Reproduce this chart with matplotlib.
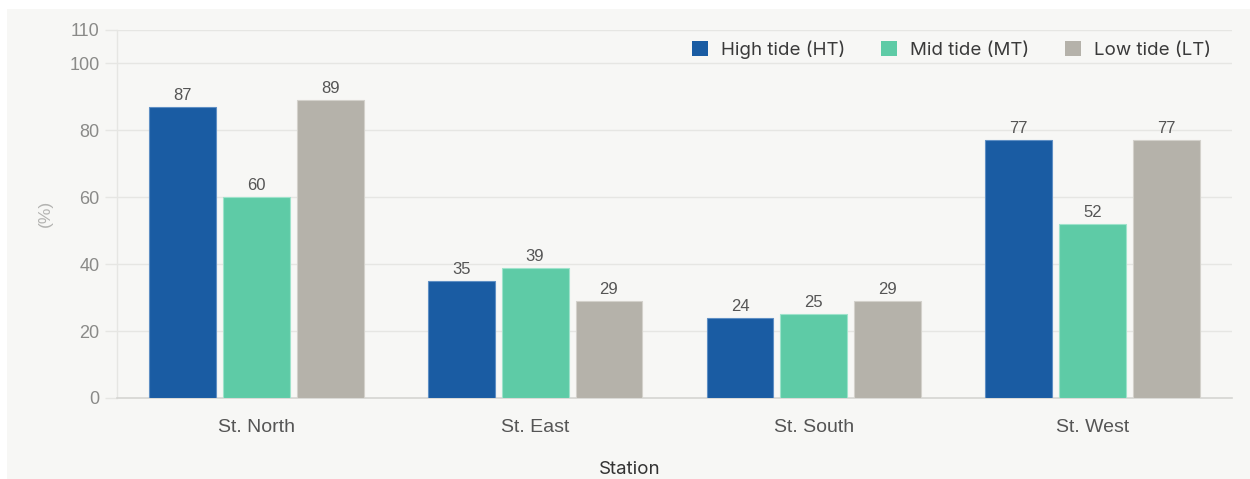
import matplotlib
matplotlib.use("Agg")
import matplotlib.pyplot as plt
import numpy as np
from matplotlib.patches import Rectangle

stations = ["St. North", "St. East", "St. South", "St. West"]
series_names = ["High tide (HT)", "Mid tide (MT)", "Low tide (LT)"]
high_tide = [87, 35, 24, 77]
mid_tide = [60, 39, 25, 52]
low_tide = [89, 29, 29, 77]
y_ticks = [0, 20, 40, 60, 80, 100, 110]

colors = ["#1a5ca3", "#5ecba6", "#b5b2aa"]
edge_colors = ["#5f8fc4", "#9ee3cb", "#d3d1cb"]
panel_color = "#f7f7f5"
grid_color = "#e6e6e3"

fig = plt.figure(figsize=(12.5, 4.79), dpi=100)
fig.patch.set_facecolor("white")
fig.patches.append(Rectangle((7 / 1250, 0), 1 - 7 / 1250, 1 - 9 / 479,
                             transform=fig.transFigure, facecolor=panel_color,
                             edgecolor="none", zorder=-10))

ax = fig.add_axes([117 / 1250, 1 - 398 / 479, (1232 - 117) / 1250, (398 - 30) / 479])
ax.set_facecolor("none")

x = np.arange(len(stations))
bar_w = 0.24
step = 0.265
for i, (vals, name) in enumerate(zip([high_tide, mid_tide, low_tide], series_names)):
    pos = x + (i - 1) * step
    bars = ax.bar(pos, vals, width=bar_w, color=colors[i], edgecolor=edge_colors[i],
                  linewidth=0.8, label=name, zorder=3)
    for b, v in zip(bars, vals):
        ax.text(b.get_x() + b.get_width() / 2, v + 1.2, f"{v}", ha="center", va="bottom",
                fontsize=12, color="#555555", family="Liberation Sans", zorder=4)

ax.set_xlim(-0.5, 3.5)
ax.set_ylim(0, 110)
ax.set_yticks(y_ticks)
ax.set_yticklabels([str(t) for t in y_ticks], fontsize=13, color="#8a8a88",
                   family="Liberation Sans")
ax.set_xticks(x)
ax.set_xticklabels(stations, fontsize=14, color="#555555", family="Liberation Sans")
ax.tick_params(axis="y", length=8.6, color=grid_color, width=1, pad=4)
ax.tick_params(axis="x", length=0, pad=15)
ax.grid(axis="y", color=grid_color, linewidth=1, zorder=0)

for side in ["top", "right"]:
    ax.spines[side].set_visible(False)
ax.spines["left"].set_color(grid_color)
ax.spines["left"].set_linewidth(1)
ax.spines["bottom"].set_color("#d5d5d2")
ax.spines["bottom"].set_linewidth(1.2)

fig.text(45 / 1250, 1 - 213 / 479, "(%)", rotation=90, ha="center", va="center",
         fontsize=12.5, color="#b3b3b1", family="Liberation Sans")
fig.text(630 / 1250, 1 - 469 / 479, "Station", ha="center", va="center",
         fontsize=13.5, color="#333333", family="Inter")

leg = ax.legend(loc="upper right", bbox_to_anchor=(0.9965, 1.017), ncol=3, frameon=False,
                handlelength=0.85, handleheight=0.85, handletextpad=0.7, columnspacing=1.9,
                prop={"family": "Inter", "size": 13.5})
for t in leg.get_texts():
    t.set_color("#3a3a3a")
for h in leg.legend_handles:
    h.set_edgecolor("none")

fig.savefig("out.png", dpi=100, facecolor="white")
